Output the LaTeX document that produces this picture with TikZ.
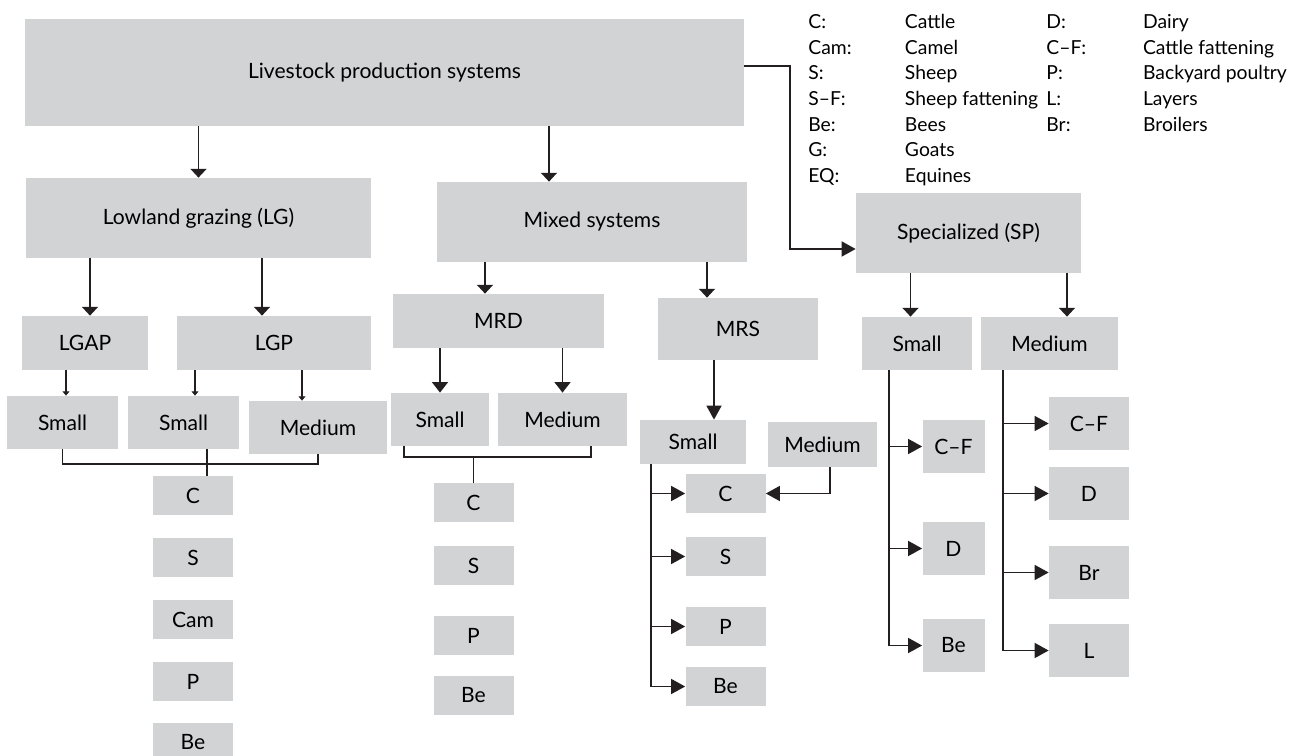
\documentclass[tikz,border=0pt]{standalone}
\usepackage{fontspec}
\setmainfont{Lato}
\usetikzlibrary{arrows.meta}
\definecolor{boxgray}{RGB}{209,211,212}
\definecolor{linedark}{RGB}{35,31,32}

\begin{document}
\begin{tikzpicture}[x=0.02cm, y=-0.02cm, font=\fontsize{12}{14}\selectfont]
\tikzstyle{block} = [rectangle, fill=boxgray, text centered, inner sep=0pt]
\tikzstyle{leaf} = [block, minimum width=1.6cm, minimum height=0.78cm]
\tikzstyle{tallleaf} = [block, minimum height=1.06cm]
\tikzstyle{arrow} = [line width=1.1pt, draw=linedark, -{Triangle[length=5pt,width=9pt]}]
\tikzstyle{sidearrow} = [line width=1.1pt, draw=linedark, -{Triangle[length=8pt,width=8.5pt]}]
\tikzstyle{thinarrow} = [line width=0.6pt, draw=linedark, -{Triangle[length=2.5pt,width=4pt]}]
\tikzstyle{link} = [line width=1.1pt, draw=linedark]

\useasboundingbox (0,0) rectangle (1304,756);

% top levels
\node [block, minimum width=14.38cm, minimum height=2.14cm] (lps) at (384.5,72.5) {Livestock production systems};
\node [block, minimum width=6.9cm, minimum height=1.6cm] (lg) at (198.5,218) {Lowland grazing (LG)};
\node [block, minimum width=6.2cm, minimum height=1.6cm] (mix) at (592,222) {Mixed systems};
\node [block, minimum width=4.5cm, minimum height=1.6cm] (sp) at (968.5,233) {Specialized (SP)};

\node [block, minimum width=2.52cm, minimum height=1.08cm] (lgap) at (85,343) {LGAP};
\node [block, minimum width=3.88cm, minimum height=1.08cm] (lgp) at (274,343) {LGP};
\node [block, minimum width=4.22cm, minimum height=1.08cm] (mrd) at (498.5,321) {MRD};
\node [block, minimum width=3.2cm, minimum height=1.24cm] (mrs) at (738,329) {MRS};
\node [tallleaf, minimum width=2.2cm] (sps) at (917,343.5) {Small};
\node [tallleaf, minimum width=2.74cm] (spm) at (1049.5,343.5) {Medium};

% farm sizes
\node [tallleaf, minimum width=2.22cm] (lgsa) at (62.5,422.5) {Small};
\node [tallleaf, minimum width=2.22cm] (lgsb) at (183.5,422.5) {Small};
\node [tallleaf, minimum width=2.76cm] (lgm) at (318,427.5) {Medium};
\node [tallleaf, minimum width=1.96cm] (mrds) at (440,419.5) {Small};
\node [tallleaf, minimum width=2.58cm] (mrdm) at (562.5,419.5) {Medium};
\node [block, minimum width=2.12cm, minimum height=0.88cm] (mrss) at (693,442) {Small};
\node [block, minimum width=2.18cm, minimum height=0.9cm] (mrsm) at (822.5,444.5) {Medium};

% LG species
\node [leaf] (lgc) at (193,495.5) {C};
\node [leaf] (lgsh) at (193,557.5) {S};
\node [leaf] (lgcam) at (193,619.5) {Cam};
\node [leaf] (lgpy) at (193,681.5) {P};
\node [leaf] (lgbe) at (193,742.5) {Be};

% MRD species
\node [leaf] (mrdc) at (473.5,502.5) {C};
\node [leaf] (mrdsh) at (473.5,565.5) {S};
\node [leaf] (mrdpy) at (473.5,635.5) {P};
\node [leaf] (mrdbe) at (473.5,695.5) {Be};

% MRS species
\node [leaf] (mrsc) at (725.5,493.5) {C};
\node [leaf] (mrssh) at (725.5,556.5) {S};
\node [leaf] (mrspy) at (725.5,626.5) {P};
\node [leaf] (mrsbe) at (725.5,686.5) {Be};

% SP species
\node [tallleaf, minimum width=1.24cm] (spscf) at (953.5,446.5) {C–F};
\node [tallleaf, minimum width=1.24cm] (spsd) at (953.5,548.5) {D};
\node [tallleaf, minimum width=1.24cm] (spsbe) at (953.5,645.5) {Be};
\node [tallleaf, minimum width=1.6cm] (spmcf) at (1089,423.5) {C–F};
\node [tallleaf, minimum width=1.6cm] (spmd) at (1089,493.5) {D};
\node [tallleaf, minimum width=1.6cm] (spmbr) at (1089,572.5) {Br};
\node [tallleaf, minimum width=1.6cm] (spml) at (1089,650.5) {L};

% legend
\node [anchor=base west, inner sep=0pt, font=\fontsize{11}{14.6}\selectfont] (legend) at (808,28.5) {%
\begin{tabular}[t]{@{}p{55pt}@{}p{80.5pt}@{}p{55pt}@{}l@{}}
C: & Cattle & D: & Dairy\\
Cam: & Camel & C–F: & Cattle fattening\\
S: & Sheep & P: & Backyard poultry\\
S–F: & Sheep fattening & L: & Layers\\
Be: & Bees & Br: & Broilers\\
G: & Goats & & \\
EQ: & Equines & &
\end{tabular}};

% connectors
\draw [arrow] (lg.north |- lps.south) -- (lg.north);
\draw [arrow] ([xshift=-0.86cm]mix.north |- lps.south) -- ([xshift=-0.86cm]mix.north);
\draw [sidearrow] ([yshift=0.13cm]lps.east) -- ++(0.92cm,0) |- ([yshift=-0.32cm]sp.west);

\draw [arrow] ([xshift=0.1cm]lgap.north |- lg.south) -- ([xshift=0.1cm]lgap.north);
\draw [arrow] ([xshift=-0.24cm]lgp.north |- lg.south) -- ([xshift=-0.24cm]lgp.north);
\draw [arrow] ([xshift=-0.27cm]mrd.north |- mix.south) -- ([xshift=-0.27cm]mrd.north);
\draw [arrow] ([xshift=-0.62cm]mrs.north |- mix.south) -- ([xshift=-0.62cm]mrs.north);
\draw [arrow] ([xshift=-0.13cm]sps.north |- sp.south) -- ([xshift=-0.13cm]sps.north);
\draw [arrow] ([xshift=0.35cm]spm.north |- sp.south) -- ([xshift=0.35cm]spm.north);

\draw [thinarrow] ([xshift=0.07cm]lgsa.north |- lgap.south) -- ([xshift=0.07cm]lgsa.north);
\draw [thinarrow] ([xshift=0.23cm]lgsb.north |- lgp.south) -- ([xshift=0.23cm]lgsb.north);
\draw [thinarrow] ([xshift=-0.32cm]lgm.north |- lgp.south) -- ([xshift=-0.32cm]lgm.north);

\draw [arrow, -{Triangle[length=6pt,width=9pt]}] (mrds.north |- mrd.south) -- (mrds.north);
\draw [arrow, -{Triangle[length=6pt,width=9pt]}] (mrdm.north |- mrd.south) -- (mrdm.north);
\draw [sidearrow] ([xshift=0.42cm]mrss.north |- mrs.south) -- ([xshift=0.42cm]mrss.north);

\draw [link] (lgsa.south) -- ++(0,-0.3cm) -| (lgm.south);
\draw [link] ([xshift=0.28cm]lgc.north) -- ([xshift=0.28cm]lgc.north |- lgsb.south);
\draw [link] ([xshift=-0.72cm]mrds.south) -- ++(0,-0.22cm) -| ([xshift=0.57cm]mrdm.south);
\draw [link] (mrdc.north) -- ++(0,0.52cm);

\draw [sidearrow] ([xshift=0.22cm]mrss.south west) |- (mrsc.west);
\draw [sidearrow] ([xshift=0.22cm]mrss.south west) |- (mrssh.west);
\draw [sidearrow] ([xshift=0.22cm]mrss.south west) |- (mrspy.west);
\draw [sidearrow] ([xshift=0.22cm]mrss.south west) |- (mrsbe.west);
\draw [sidearrow] ([xshift=0.15cm]mrsm.south) |- (mrsc.east);

\draw [sidearrow] ([xshift=0.54cm]sps.south west) |- (spscf.west);
\draw [sidearrow] ([xshift=0.54cm]sps.south west) |- (spsd.west);
\draw [sidearrow] ([xshift=0.54cm]sps.south west) |- (spsbe.west);
\draw [sidearrow] ([xshift=0.44cm]spm.south west) |- (spmcf.west);
\draw [sidearrow] ([xshift=0.44cm]spm.south west) |- (spmd.west);
\draw [sidearrow] ([xshift=0.44cm]spm.south west) |- (spmbr.west);
\draw [sidearrow] ([xshift=0.44cm]spm.south west) |- (spml.west);
\end{tikzpicture}
\end{document}
